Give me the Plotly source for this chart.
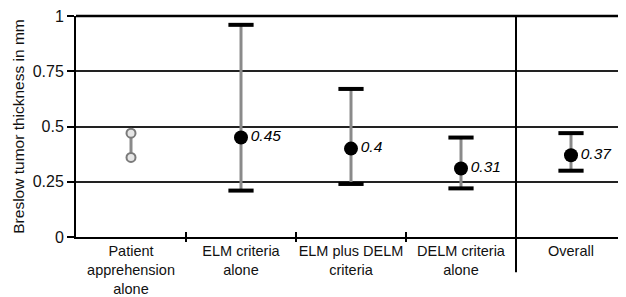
import plotly.graph_objects as go

categories = ["Patient<br>apprehension<br>alone", "ELM criteria<br>alone", "ELM plus DELM<br>criteria", "DELM criteria<br>alone", "Overall"]
xpos = [0, 1, 2, 3, 4]
point_vals = [None, 0.45, 0.40, 0.31, 0.37]
upper_vals = [None, 0.96, 0.67, 0.45, 0.47]
lower_vals = [None, 0.21, 0.24, 0.22, 0.30]
point_labels = ["", "0.45", "0.4", "0.31", "0.37"]
patient_vals = [0.47, 0.36]
y_ticks = [0, 0.25, 0.5, 0.75, 1]
y_tick_text = ["0", "0.25", "0.5", "0.75", "1"]
boundaries = [0.5, 1.5, 2.5]

FAM = "Liberation Sans, Arial, sans-serif"

fig = go.Figure()

# Patient apprehension: two open points joined by a line
fig.add_trace(go.Scatter(
    x=[xpos[0]] * len(patient_vals), y=patient_vals, mode="lines+markers",
    line=dict(color="#8a8a8a", width=3),
    marker=dict(symbol="circle", size=9, color="#e6e6e6", line=dict(color="#7a7a7a", width=2)),
    hoverinfo="skip", showlegend=False))

xs = xpos[1:]
pts = point_vals[1:]
ups = upper_vals[1:]
los = lower_vals[1:]

# stems
for x, lo, hi in zip(xs, los, ups):
    fig.add_trace(go.Scatter(x=[x, x], y=[lo, hi], mode="lines",
                             line=dict(color="#8a8a8a", width=3),
                             hoverinfo="skip", showlegend=False))

# caps
fig.add_trace(go.Scatter(
    x=xs + xs, y=ups + los, mode="markers",
    marker=dict(symbol="line-ew", size=18, line=dict(color="black", width=4)),
    hoverinfo="skip", showlegend=False))

# points with labels
fig.add_trace(go.Scatter(
    x=xs, y=pts, mode="markers+text",
    marker=dict(symbol="circle", size=14, color="black"),
    text=point_labels[1:], textposition="middle right",
    textfont=dict(family=FAM, size=15.5, color="black", style="italic"),
    hoverinfo="skip", showlegend=False))

# boundary ticks via overlay axes
fig.add_trace(go.Scatter(x=boundaries, y=[None] * 3, xaxis="x2", yaxis="y",
                         mode="markers", showlegend=False, hoverinfo="skip"))
fig.add_trace(go.Scatter(x=boundaries, y=[None] * 3, xaxis="x3", yaxis="y",
                         mode="markers", showlegend=False, hoverinfo="skip"))

# separator before Overall
fig.add_shape(type="line", xref="x", yref="paper", x0=3.5, x1=3.5, y0=-0.16, y1=1,
              line=dict(color="black", width=2))

xfont = dict(family=FAM, size=14.5, color="#111")

fig.update_layout(
    width=618, height=297,
    margin=dict(l=68, r=0, t=8, b=68, autoexpand=False),
    paper_bgcolor="white", plot_bgcolor="white",
    font=xfont,
    xaxis=dict(range=[-0.5, 4.5], tickmode="array", tickvals=xpos, ticktext=categories,
               ticks="", showgrid=False, zeroline=False, showline=True, linecolor="black",
               linewidth=2, mirror=False, tickfont=xfont, automargin=False,
               ticklabeloverflow="allow"),
    xaxis2=dict(range=[-0.5, 4.5], overlaying="x", tickmode="array", tickvals=boundaries,
                showticklabels=False, ticks="inside", ticklen=5, tickcolor="black", tickwidth=2,
                showgrid=False, zeroline=False, showline=False, anchor="y", side="bottom",
                automargin=False),
    xaxis3=dict(range=[-0.5, 4.5], overlaying="x", tickmode="array", tickvals=boundaries,
                showticklabels=False, ticks="outside", ticklen=4, tickcolor="black", tickwidth=2,
                showgrid=False, zeroline=False, showline=False, anchor="y", side="bottom",
                automargin=False),
    yaxis=dict(range=[0, 1], tickmode="array", tickvals=y_ticks, ticktext=y_tick_text,
               ticks="outside", ticklen=7, tickcolor="black", tickwidth=2,
               showgrid=True, gridcolor="#222", gridwidth=1.5, zeroline=False,
               showline=True, linecolor="black", linewidth=2, mirror=False,
               tickfont=dict(family=FAM, size=16, color="#111"), automargin=False,
               ticklabeloverflow="allow",
               title=dict(text="Breslow tumor thickness in mm", standoff=4,
                          font=dict(family=FAM, size=15.5, color="#111"))),
)

# top and right borders
fig.add_shape(type="line", xref="paper", yref="paper", x0=0, x1=1, y0=1, y1=1,
              line=dict(color="black", width=2.5))
fig.add_shape(type="line", xref="paper", yref="paper", x0=1, x1=1, y0=0, y1=1,
              line=dict(color="black", width=2))

fig.write_html("out.html")
